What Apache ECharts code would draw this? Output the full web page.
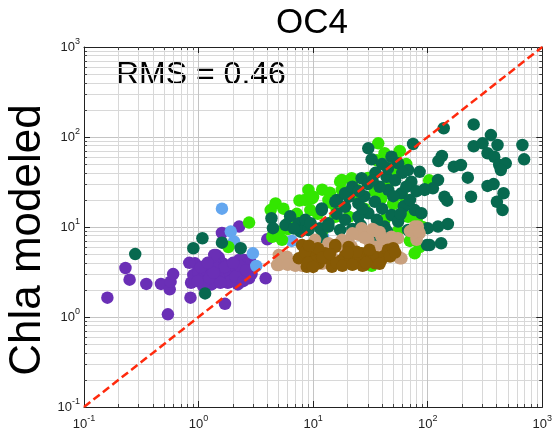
<!DOCTYPE html>
<html>
<head>
<meta charset="utf-8">
<script src="https://cdn.jsdelivr.net/npm/echarts@6/dist/echarts.min.js"></script>
<style>
  html, body { margin: 0; padding: 0; background: #fff; }
  #chart { width: 555px; height: 436px; }
</style>
</head>
<body>
<div id="chart"></div>
<script>
// axis range (both axes log10)
const axisMin = 0.1
const axisMax = 1000
const tickExponents = [-1, 0, 1, 2, 3]

// measured vs modeled chla, one array per group
const purple = [
  [0.16, 1.64], [0.23, 3.5], [0.25, 2.6], [0.35, 2.33], [0.47, 2.33], [0.56, 2.03], [0.57, 2.47],
  [0.6, 3.0], [0.54, 1.07], [0.85, 1.64], [0.86, 2.4], [0.93, 3.95], [0.9, 2.93], [1.7, 1.4],
  [1.6, 8.6], [2.26, 10.1], [1.42, 4.9], [3.85, 2.69], [3.98, 7.3],
  [1.0, 3.1], [1.05, 2.6], [1.1, 3.4], [1.15, 2.9], [1.2, 3.2], [1.2, 2.5], [1.25, 3.6], [1.3, 3.0],
  [1.3, 2.3], [1.35, 4.2], [1.4, 3.3], [1.45, 2.8], [1.5, 3.7], [1.5, 4.6], [1.55, 3.1], [1.6, 2.6],
  [1.6, 3.4], [1.65, 3.9], [1.7, 3.0], [1.75, 2.7], [1.8, 3.6], [1.85, 3.2], [1.9, 2.9], [1.95, 3.8],
  [2.0, 3.3], [2.05, 2.6], [2.1, 3.5], [2.2, 3.0], [2.3, 2.8], [2.4, 3.4], [2.5, 3.1], [2.6, 2.7],
  [2.7, 3.6], [2.8, 4.2], [2.9, 3.0], [2.5, 4.3], [1.1, 2.2], [1.8, 2.4], [2.2, 2.3], [0.98, 2.5],
  [1.4, 3.9], [1.37, 4.9], [2.26, 4.3], [2.57, 3.78], [2.76, 2.69], [1.98, 2.58], [0.83, 4.0],
  [1.05, 3.6], [1.25, 2.7], [1.45, 3.5], [1.7, 3.6], [1.9, 2.5], [2.1, 2.8], [2.3, 3.7], [2.45, 2.5],
  [1.55, 2.4], [1.35, 3.1], [1.2, 4.0], [2.0, 4.0], [2.6, 3.3]
]
const lightBlue = [
  [1.6, 16], [1.91, 8.9], [2.04, 6.9], [2.98, 5.1], [3.19, 3.69], [6.5, 7.0], [12.2, 7.8]
]
const lightGreen = [
  [1.82, 6.0], [2.76, 11.2], [4.7, 18.3], [4.26, 15.4], [5.02, 8.87], [5.35, 7.2], [7.6, 19.7],
  [8.5, 20], [9.77, 20.8], [9.45, 15.4], [17.2, 31.9], [17.8, 25.8], [17.8, 33.3], [21.7, 34.8],
  [9.1, 25.8], [10, 21.7], [13.6, 20], [14.4, 18.6], [34.6, 24.7], [39.4, 20.8], [20.4, 13],
  [67.4, 13], [15.6, 13], [37, 85], [42, 66], [57, 70], [103, 33], [104, 27.8], [77, 5.1],
  [32.4, 3.7], [6.2, 11.5], [7.2, 14], [12, 26], [14, 24], [25, 20], [28, 16], [45, 30], [50, 18],
  [60, 22], [90, 10], [80, 12], [36, 55], [55, 40], [4.4, 7.8], [22, 32.4],
  [5.5, 16], [11, 14], [16, 16], [24, 26], [30, 35], [46, 45], [52, 60], [65, 50], [70, 30],
  [42, 12], [29, 5], [37, 4.2], [55, 9], [70, 7], [85, 6], [12, 9], [6, 9.5]
]
const darkGreen = [
  [0.28, 5.0], [0.9, 5.8], [1.08, 7.5], [1.14, 1.83], [1.6, 6.7], [2.33, 5.8],
  [4.33, 12.5], [4.46, 9.7], [6.3, 13.2], [5.74, 10.5], [7.5, 11], [8.55, 12], [7.74, 8.87],
  [11.9, 16.1], [11.5, 9.7], [13.6, 11], [16.1, 20], [19, 16.8], [26.5, 34.8], [20.4, 21.7],
  [30.3, 74.9], [32.4, 56.5], [74.5, 83.6], [48.3, 60.4], [55.2, 51], [67.4, 43], [85, 41],
  [43.7, 36.2], [72, 31.9], [94, 25.8], [45.2, 25.8], [59, 23.7], [19, 23.7], [34.6, 19.1],
  [24.8, 18.3], [15.6, 19.1], [11.9, 15.4], [30.3, 14.2], [48.3, 13.6], [77, 15.4], [55.2, 11.5],
  [24.8, 13], [19, 12], [13.6, 10.1], [17.2, 9.26], [42, 10.1], [67.4, 9.26], [98.6, 6.3],
  [9.1, 9.26], [11.9, 7.8], [34.6, 7.8], [48.3, 7.2],
  [28, 22], [38, 28], [52, 33], [26, 10.5], [40, 16], [62, 17], [35, 40], [22, 28],
  [30, 30], [25, 25], [45, 45], [50, 22], [65, 28], [70, 20], [80, 25], [36, 12], [44, 9],
  [58, 14], [16, 14], [9.5, 11], [6.8, 9.6], [22, 9.5], [60, 40], [40, 50], [33, 33], [27, 16],
  [138, 125], [252, 138], [356, 105], [252, 79], [301, 85], [407, 81.5], [333, 66], [381, 60.4],
  [421, 48.8], [480, 51], [435, 43], [671, 81.5], [694, 56.5], [133, 61.5], [124, 54], [169, 46.8],
  [195, 48.8], [224, 35.3], [123, 33.3], [94, 26.2], [111, 26.9], [140, 21.7], [148, 19.6],
  [239, 21.7], [333, 28.6], [376, 30], [459, 23.7], [402, 19.1], [450, 15.4], [150, 10.8],
  [123, 10.1], [100, 9.7], [131, 6.6], [104, 6.3], [88, 14.2]
]
const tan = [
  [4.85, 3.78], [5.02, 4.9], [5.02, 3.78], [6.55, 3.95], [10.4, 7.2], [13.6, 6.6], [26.5, 9.7],
  [30.3, 8.5], [39.4, 7.8], [48.3, 7.2], [57, 4.49], [82, 10.1], [80, 7.2], [20.4, 7.2],
  [17.8, 6.04], [8.55, 5.1], [5.9, 4.68], [14.6, 4.68], [26.5, 9.26], [30.3, 7.2], [77, 10.1],
  [79.7, 7.8], [59, 4.49], [48.3, 7.8], [17.8, 7.2], [34.6, 6.04], [21.7, 6.04], [7.2, 4.0],
  [9.5, 3.9], [25, 8.2], [35, 9.0], [45, 6.5], [70, 9.0], [85, 8.5], [12.5, 5.6], [42, 5.0],
  [6, 3.8], [7, 3.7], [8, 3.7], [10, 3.8], [12, 3.9], [22, 8.5], [28, 7.6], [33, 9.5], [38, 8.8],
  [41, 6.3], [55, 7.5], [83, 9], [53, 5]
]
const brown = [
  [15.6, 6.3], [20.4, 6.0], [46.6, 5.3], [9.1, 4.68], [11.2, 3.95], [8, 6.3], [7.5, 4.49],
  [8.8, 3.62], [12.7, 5.1], [15.6, 6.04], [17.8, 4.3], [23.2, 3.95], [30.3, 4.49], [39.4, 4.3],
  [9.8, 4.68], [26.5, 5.1], [14.6, 3.62], [34.6, 3.95], [10.5, 4.2], [13, 4.5], [16, 4.0],
  [19, 4.8], [21, 4.2], [25, 4.4], [28, 3.8], [32, 5.0], [36, 4.6], [42, 4.8], [45, 5.6],
  [50, 5.8], [8.5, 5.3], [11, 5.8], [27, 3.7], [24, 5.3],
  [9, 4.0], [10, 3.6], [12, 4.6], [14, 5.0], [18, 3.7], [20, 5.2], [22, 3.8], [29, 4.0],
  [31, 5.6], [38, 3.9], [47, 4.7], [52, 5.2], [9.2, 6.2]
]
const oneToOne = [[axisMin, axisMin], [axisMax, axisMax]]

const chart = echarts.init(document.getElementById('chart'))

const FONT = 'Liberation Sans'
const supLabel = (v) => {
  const e = Math.round(Math.log10(v))
  return tickExponents.includes(e) ? '{b|10}{e|' + e + '}' : ''
}
const rich = {
  b: { fontSize: 13, fontFamily: FONT, color: '#222' },
  e: { fontSize: 9, fontFamily: FONT, color: '#222', padding: [0, 0, 11, 0] }
}

// main axes carry labels + grid, mirror axes only draw the box ticks
const logAxis = (pos, main) => ({
  type: 'log',
  logBase: 10,
  min: axisMin,
  max: axisMax,
  position: pos,
  axisLine: { show: true, onZero: false, lineStyle: { color: '#222', width: 1 } },
  axisTick: { show: true, inside: true, length: 6, lineStyle: { color: '#222' } },
  minorTick: { show: true, splitNumber: 9, length: 3, lineStyle: { color: '#444' } },
  axisLabel: main
    ? { show: true, formatter: supLabel, rich: rich, margin: pos === 'bottom' ? 7 : 4 }
    : { show: false },
  splitLine: { show: main, lineStyle: { color: '#c4c4c4', width: 1 } },
  minorSplitLine: { show: main, lineStyle: { color: '#d8d8d8', width: 1 } }
})

const dots = (name, data, color) => ({
  name: name,
  type: 'scatter',
  data: data,
  symbol: 'circle',
  symbolSize: 12.5,
  itemStyle: { color: color, opacity: 1 },
  silent: true
})

chart.setOption({
  animation: false,
  title: {
    text: 'OC4',
    left: 307,
    top: 1,
    textAlign: 'center',
    textStyle: { fontSize: 35, fontWeight: 'normal', fontFamily: FONT, color: '#000' }
  },
  grid: { left: 84, right: 10, top: 47, bottom: 29, containLabel: false },
  xAxis: [logAxis('bottom', true), logAxis('top', false)],
  yAxis: [logAxis('left', true), logAxis('right', false)],
  graphic: [
    {
      type: 'text',
      left: 116,
      top: 59,
      style: { text: 'RMS = 0.46', font: '32px "Liberation Sans"', fill: '#000' }
    },
    {
      type: 'text',
      x: 28,
      y: 240,
      rotation: Math.PI / 2,
      style: {
        text: 'Chla modeled',
        font: '44px "Liberation Sans"',
        fill: '#000',
        align: 'center',
        verticalAlign: 'middle'
      }
    }
  ],
  series: [
    dots('purple', purple, '#6a2fb6'),
    dots('lightBlue', lightBlue, '#63a6ef'),
    dots('lightGreen', lightGreen, '#33e600'),
    dots('darkGreen', darkGreen, '#07694f'),
    dots('tan', tan, '#c8a07e'),
    dots('brown', brown, '#875a05'),
    {
      name: '1:1',
      type: 'line',
      data: oneToOne,
      symbol: 'none',
      z: 5,
      silent: true,
      lineStyle: { color: '#ff2a0d', width: 2.5, type: [8, 4] }
    }
  ]
})

window.addEventListener('resize', () => chart.resize())
</script>
</body>
</html>
